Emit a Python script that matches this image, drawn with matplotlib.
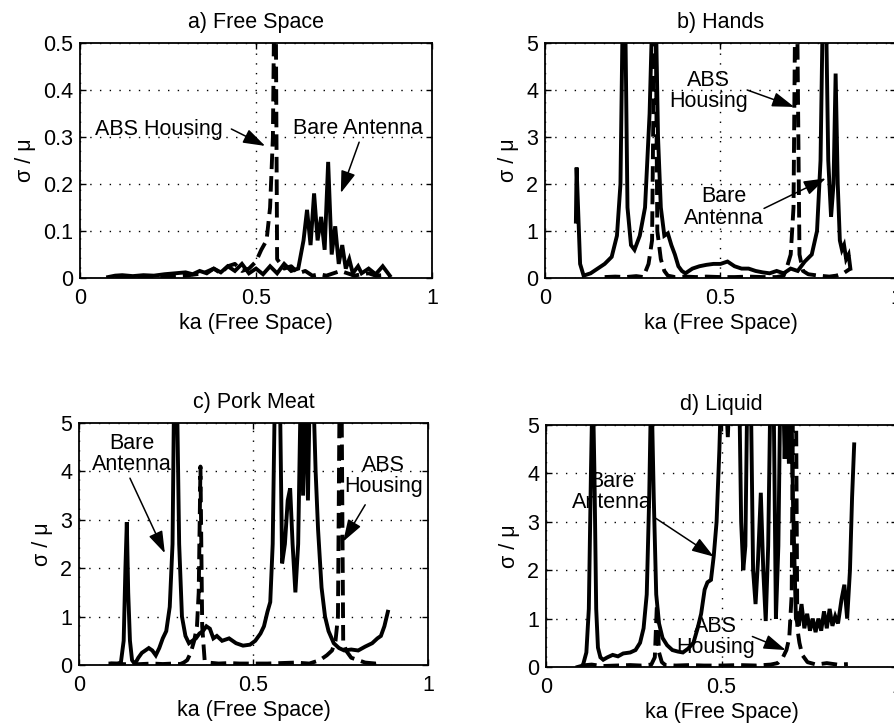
import matplotlib
matplotlib.use('Agg')
import matplotlib.pyplot as plt

plt.rcParams['font.family'] = ['Liberation Sans', 'DejaVu Sans']
plt.rcParams['font.size'] = 15.5

# ---------------- data ----------------
# a) Free Space
a_bare_x = [0.08, 0.10, 0.12, 0.15, 0.18, 0.21, 0.24, 0.27, 0.30, 0.32, 0.34, 0.36, 0.38, 0.40,
            0.42, 0.44, 0.46, 0.48, 0.50, 0.52, 0.54, 0.56, 0.58, 0.60, 0.62, 0.635, 0.645, 0.655,
            0.665, 0.675, 0.685, 0.695, 0.705, 0.715, 0.725, 0.735, 0.745, 0.755, 0.765, 0.775,
            0.79, 0.80, 0.82, 0.84, 0.86, 0.88]
a_bare_y = [0.002, 0.005, 0.006, 0.004, 0.006, 0.005, 0.008, 0.01, 0.012, 0.008, 0.015, 0.01,
            0.02, 0.012, 0.025, 0.015, 0.03, 0.01, 0.02, 0.008, 0.025, 0.01, 0.03, 0.015, 0.02,
            0.08, 0.145, 0.07, 0.18, 0.08, 0.13, 0.06, 0.247, 0.05, 0.11, 0.03, 0.07, 0.02, 0.04,
            0.01, 0.025, 0.01, 0.02, 0.008, 0.025, 0.005]
a_abs_x = [0.10, 0.15, 0.20, 0.25, 0.30, 0.35, 0.38, 0.40, 0.42, 0.44, 0.46, 0.48, 0.50, 0.515,
           0.53, 0.54, 0.548, 0.552, 0.556, 0.56, 0.57, 0.58, 0.60, 0.62, 0.64, 0.66, 0.68, 0.70,
           0.72, 0.74, 0.76, 0.78, 0.80, 0.82, 0.84, 0.86, 0.88]
a_abs_y = [0.002, 0.003, 0.003, 0.004, 0.005, 0.01, 0.02, 0.01, 0.025, 0.03, 0.015, 0.02, 0.035,
           0.06, 0.08, 0.15, 0.3, 0.6, 0.6, 0.04, 0.03, 0.02, 0.025, 0.01, 0.015, 0.005, 0.008,
           0.005, 0.01, 0.015, 0.01, 0.005, 0.008, 0.01, 0.005, 0.006, 0.004]

# b) Hands
b_bare_x = [0.088, 0.09, 0.10, 0.11, 0.13, 0.15, 0.17, 0.19, 0.205, 0.215, 0.222, 0.228, 0.235,
            0.245, 0.255, 0.27, 0.285, 0.298, 0.307, 0.315, 0.322, 0.33, 0.34, 0.35, 0.36, 0.37,
            0.38, 0.39, 0.40, 0.42, 0.44, 0.46, 0.48, 0.50, 0.52, 0.54, 0.56, 0.58, 0.60, 0.62,
            0.64, 0.66, 0.68, 0.70, 0.72, 0.74, 0.76, 0.775, 0.785, 0.792, 0.80, 0.807, 0.815,
            0.822, 0.828, 0.834, 0.84, 0.846, 0.852, 0.858, 0.865, 0.87]
b_bare_y = [1.2, 2.35, 0.3, 0.05, 0.1, 0.2, 0.3, 0.45, 0.9, 2.0, 6.0, 6.0, 1.5, 0.7, 0.6, 0.9, 1.5,
            3.5, 6.0, 6.0, 3.0, 1.5, 0.9, 0.95, 0.7, 0.5, 0.25, 0.15, 0.1, 0.2, 0.25, 0.28, 0.3,
            0.3, 0.35, 0.25, 0.2, 0.2, 0.15, 0.12, 0.1, 0.15, 0.1, 0.2, 0.15, 0.35, 0.5, 1.0, 2.5,
            6.0, 6.0, 2.5, 1.3, 2.0, 4.35, 2.0, 0.8, 0.6, 0.7, 0.4, 0.5, 0.2]
b_abs_x = [0.17, 0.20, 0.23, 0.26, 0.28, 0.295, 0.305, 0.31, 0.315, 0.32, 0.33, 0.34, 0.35, 0.37,
           0.40, 0.43, 0.46, 0.50, 0.54, 0.58, 0.62, 0.66, 0.68, 0.69, 0.70, 0.708, 0.713, 0.718,
           0.725, 0.735, 0.75, 0.78, 0.81, 0.83, 0.85, 0.87]
b_abs_y = [0.02, 0.03, 0.02, 0.04, 0.02, 0.3, 0.8, 4.5, 6.0, 1.0, 0.4, 0.15, 0.05, 0.02, 0.03,
           0.02, 0.03, 0.02, 0.02, 0.03, 0.02, 0.02, 0.05, 0.25, 0.5, 1.5, 6.0, 6.0, 0.5, 0.15,
           0.08, 0.05, 0.03, 0.05, 0.1, 0.2]

# c) Pork Meat
c_bare_x = [0.09, 0.11, 0.12, 0.128, 0.133, 0.137, 0.141, 0.146, 0.152, 0.16, 0.17, 0.18, 0.19,
            0.20, 0.21, 0.22, 0.23, 0.24, 0.25, 0.26, 0.268, 0.273, 0.28, 0.287, 0.295, 0.305,
            0.315, 0.325, 0.335, 0.345, 0.355, 0.365, 0.375, 0.385, 0.395, 0.41, 0.43, 0.45,
            0.47, 0.49, 0.505, 0.52, 0.53, 0.54, 0.548, 0.555, 0.562, 0.575, 0.582, 0.59, 0.598,
            0.605, 0.612, 0.62, 0.628, 0.636, 0.642, 0.648, 0.656, 0.662, 0.67, 0.678, 0.685,
            0.695, 0.705, 0.715, 0.73, 0.745, 0.76, 0.78, 0.80, 0.82, 0.84, 0.855, 0.865, 0.875,
            0.885]
c_bare_y = [0.03, 0.03, 0.05, 0.5, 2.0, 2.95, 1.5, 0.5, 0.1, 0.02, 0.15, 0.25, 0.3, 0.35, 0.3,
            0.2, 0.35, 0.55, 0.7, 1.2, 2.5, 6.0, 6.0, 2.5, 1.0, 0.6, 0.45, 0.5, 0.55, 0.65, 0.7,
            0.8, 0.75, 0.55, 0.6, 0.5, 0.55, 0.45, 0.4, 0.42, 0.5, 0.65, 0.8, 1.1, 1.3, 2.5, 6.0,
            6.0, 2.1, 2.5, 3.4, 3.65, 2.5, 1.5, 2.5, 6.0, 3.5, 6.0, 3.4, 6.0, 6.0, 4.0, 2.8, 1.6,
            1.0, 0.7, 0.45, 0.35, 0.3, 0.32, 0.3, 0.38, 0.45, 0.55, 0.6, 0.8, 1.1]
c_abs_x = [0.09, 0.12, 0.15, 0.18, 0.21, 0.24, 0.27, 0.29, 0.30, 0.31, 0.32, 0.33, 0.338, 0.343,
           0.348, 0.353, 0.36, 0.37, 0.40, 0.43, 0.46, 0.50, 0.54, 0.58, 0.62, 0.66, 0.69, 0.71,
           0.725, 0.735, 0.742, 0.747, 0.752, 0.757, 0.765, 0.78, 0.80, 0.82, 0.85, 0.87]
c_abs_y = [0.03, 0.02, 0.01, 0.02, 0.03, 0.02, 0.03, 0.02, 0.05, 0.1, 0.25, 0.5, 0.8, 1.5, 4.1,
           0.8, 0.1, 0.05, 0.03, 0.04, 0.03, 0.03, 0.03, 0.04, 0.05, 0.03, 0.1, 0.2, 0.3, 0.5,
           1.0, 6.0, 6.0, 0.5, 0.3, 0.15, 0.1, 0.05, 0.03, 0.05]

# d) Liquid
d_bare_x = [0.09, 0.105, 0.115, 0.122, 0.128, 0.133, 0.138, 0.143, 0.148, 0.155, 0.163, 0.175,
            0.19, 0.205, 0.22, 0.24, 0.255, 0.268, 0.278, 0.287, 0.294, 0.30, 0.307, 0.314,
            0.322, 0.332, 0.345, 0.36, 0.375, 0.39, 0.405, 0.42, 0.432, 0.442, 0.452, 0.46, 0.47,
            0.478, 0.486, 0.494, 0.50, 0.51, 0.518, 0.525, 0.55, 0.556, 0.562, 0.568, 0.574,
            0.583, 0.59, 0.597, 0.604, 0.612, 0.619, 0.626, 0.633, 0.64, 0.648, 0.655, 0.662,
            0.668, 0.675, 0.68, 0.686, 0.692, 0.698, 0.704, 0.712, 0.72, 0.728, 0.736, 0.744,
            0.752, 0.76, 0.768, 0.776, 0.784, 0.792, 0.80, 0.808, 0.816, 0.824, 0.832, 0.842,
            0.85, 0.858, 0.866, 0.872, 0.878]
d_bare_y = [0.0, 0.03, 0.3, 1.2, 4.0, 6.0, 4.0, 1.2, 0.4, 0.2, 0.15, 0.2, 0.25, 0.22, 0.28, 0.3,
            0.35, 0.5, 0.8, 1.5, 3.5, 6.0, 3.5, 1.5, 0.9, 0.6, 0.45, 0.35, 0.32, 0.3, 0.38, 0.5,
            0.8, 1.1, 1.6, 1.75, 1.8, 2.3, 3.0, 4.5, 6.0, 6.0, 4.75, 6.0, 6.0, 3.0, 2.0, 2.5,
            6.0, 6.0, 2.0, 1.3, 2.2, 3.6, 2.0, 0.95, 2.5, 6.0, 6.0, 1.0, 2.5, 6.0, 6.0, 4.3, 6.0,
            4.2, 6.0, 3.3, 1.0, 0.85, 1.3, 0.8, 1.1, 0.75, 1.0, 0.72, 1.0, 0.75, 1.15, 0.8, 1.2,
            0.85, 1.05, 0.9, 1.4, 1.7, 1.0, 2.0, 3.5, 4.6]
d_abs_x = [0.10, 0.13, 0.16, 0.20, 0.24, 0.27, 0.30, 0.31, 0.316, 0.322, 0.33, 0.34, 0.37, 0.41,
           0.45, 0.50, 0.55, 0.60, 0.64, 0.66, 0.675, 0.685, 0.693, 0.70, 0.704, 0.712, 0.716,
           0.722, 0.73, 0.745, 0.77, 0.80, 0.83, 0.86]
d_abs_y = [0.03, 0.05, 0.02, 0.03, 0.04, 0.03, 0.05, 0.2, 1.3, 0.3, 0.1, 0.04, 0.03, 0.04, 0.03,
           0.03, 0.04, 0.03, 0.05, 0.08, 0.2, 0.35, 0.6, 1.5, 6.0, 6.0, 0.8, 0.5, 0.25, 0.1,
           0.05, 0.08, 0.05, 0.06]

titles = ['a) Free Space', 'b) Hands', 'c) Pork Meat', 'd) Liquid']
x_ticks = [0, 0.5, 1]
x_ticklabels = ['0', '0.5', '1']
a_yticks = [0, 0.1, 0.2, 0.3, 0.4, 0.5]
a_yticklabels = ['0', '0.1', '0.2', '0.3', '0.4', '0.5']
other_yticks = [0, 1, 2, 3, 4, 5]
other_yticklabels = ['0', '1', '2', '3', '4', '5']

# ---------------- figure ----------------
W, H = 895, 725
fig = plt.figure(figsize=(W / 100, H / 100), dpi=100)

def px_axes(l, r, t, b):
    return fig.add_axes([l / W, 1 - b / H, (r - l) / W, (b - t) / H])

axs = [px_axes(80, 432, 43, 278), px_axes(545, 896, 43, 278),
       px_axes(79, 428, 423, 665), px_axes(546, 897, 425, 667)]

data = [(a_bare_x, a_bare_y, a_abs_x, a_abs_y),
        (b_bare_x, b_bare_y, b_abs_x, b_abs_y),
        (c_bare_x, c_bare_y, c_abs_x, c_abs_y),
        (d_bare_x, d_bare_y, d_abs_x, d_abs_y)]

FS = 15.5
for i, ax in enumerate(axs):
    bx, by, hx, hy = data[i]
    ax.plot(hx, hy, color='black', lw=2.8, linestyle=(0, (4, 1.8)), solid_joinstyle='miter')
    ax.plot(bx, by, color='black', lw=2.8, solid_joinstyle='miter')
    ax.set_xlim(0, 1)
    if i == 0:
        ax.set_ylim(0, 0.5)
        ax.set_yticks(a_yticks)
        ax.set_yticklabels(a_yticklabels)
    else:
        ax.set_ylim(0, 5)
        ax.set_yticks(other_yticks)
        ax.set_yticklabels(other_yticklabels)
    ax.set_xticks(x_ticks)
    ax.set_xticklabels(x_ticklabels)
    ax.grid(True, color='black', linestyle=(0, (1, 6)), lw=1.0)
    ax.set_axisbelow(True)
    ax.tick_params(direction='in', top=True, right=True, length=4, width=1,
                   labelsize=FS, pad=5)
    ax.tick_params(axis='x', pad=7)
    for s in ax.spines.values():
        s.set_linewidth(1.3)
    ax.set_title(titles[i], fontsize=FS, pad=11)
    ax.set_xlabel('ka (Free Space)', fontsize=FS, labelpad=3)
    ax.set_ylabel('σ / μ', fontsize=FS, labelpad=5)

arrow = dict(arrowstyle='-|>,head_length=0.9,head_width=0.3', color='black', lw=1.1,
             mutation_scale=15, shrinkA=0, shrinkB=0)

def label(ax, text, pos, tail, tip, ha='center'):
    ax.text(pos[0], pos[1], text, ha=ha, va='center', multialignment='center',
            fontsize=FS, linespacing=1.0)
    ax.annotate('', xy=tip, xytext=tail, arrowprops=arrow)

label(axs[0], 'ABS Housing', (0.043, 0.315), (0.43, 0.317), (0.526, 0.281), ha='left')
label(axs[0], 'Bare Antenna', (0.605, 0.319), (0.793, 0.289), (0.741, 0.181), ha='left')
label(axs[1], 'ABS\nHousing', (0.466, 3.98), (0.576, 4.0), (0.71, 3.64))
label(axs[1], 'Bare\nAntenna', (0.509, 1.5), (0.624, 1.48), (0.80, 2.12))
label(axs[2], 'Bare\nAntenna', (0.151, 4.36), (0.146, 3.86), (0.246, 2.31))
label(axs[2], 'ABS\nHousing', (0.872, 3.9), (0.82, 3.31), (0.757, 2.55))
label(axs[3], 'Bare\nAntenna', (0.188, 3.62), (0.307, 3.1), (0.478, 2.28))
label(axs[3], 'ABS\nHousing', (0.483, 0.61), (0.588, 0.63), (0.683, 0.35))

fig.savefig('out.png', dpi=100)
